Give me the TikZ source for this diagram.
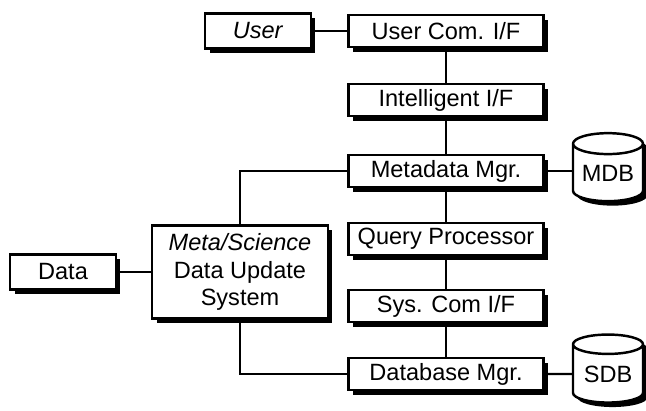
\documentclass[tikz,border=0pt]{standalone}
\usepackage{fontspec}
\setmainfont{Liberation Sans}
\usetikzlibrary{shapes.geometric,shadows}

\tikzset{
    every node/.style={font=\fontsize{13.4}{15.5}\selectfont},
    hardshadow/.style={drop shadow={shadow xshift=0.09cm, shadow yshift=-0.09cm, fill=black, opacity=1}},
    blk/.style={draw, fill=white, line width=1.4pt, inner sep=0pt, minimum width=3.9cm, minimum height=0.64cm, hardshadow},
    sideblk/.style={blk, minimum width=2.12cm, minimum height=0.7cm},
    store/.style={cylinder, shape border rotate=90, aspect=0.4, draw, fill=white, line width=1.4pt, inner sep=0pt, minimum width=1.4cm, minimum height=1.36cm, hardshadow},
    link/.style={line width=1.4pt}
}

\begin{document}
\begin{tikzpicture}[x=0.02cm, y=-0.02cm]
    \useasboundingbox (0,0) rectangle (646,410);

    % main column
    \node[blk] (usercom) at (446,31) {User Com. I/F};
    \node[blk] (intel) at (446,100) {Intelligent I/F};
    \node[blk] (metamgr) at (446,171) {Metadata Mgr.};
    \node[blk] (query) at (446,239) {Query Processor};
    \node[blk] (syscom) at (446,306) {Sys. Com I/F};
    \node[blk] (dbmgr) at (446,374) {Database Mgr.};

    % left side
    \node[sideblk] (user) at (258,31) {\textit{User}};
    \node[blk, minimum width=3.52cm, minimum height=1.86cm, align=center] (update) at (240,272) {\textit{Meta/Science}\\Data Update\\System};
    \node[sideblk] (data) at (63,272) {Data};

    % stores
    \node[store] (mdb) at (608,173) {MDB};
    \node[store] (sdb) at (608,374) {SDB};

    \draw[link] (user) -- (usercom);
    \draw[link] (usercom) -- (intel) -- (metamgr) -- (query) -- (syscom) -- (dbmgr);
    \draw[link] (metamgr.east) -- (metamgr.east -| mdb.west);
    \draw[link] (dbmgr) -- (sdb);
    \draw[link] (data) -- (update);
    \draw[link] (update.north) |- (metamgr.west);
    \draw[link] (update.south) |- (dbmgr.west);

\end{tikzpicture}
\end{document}
